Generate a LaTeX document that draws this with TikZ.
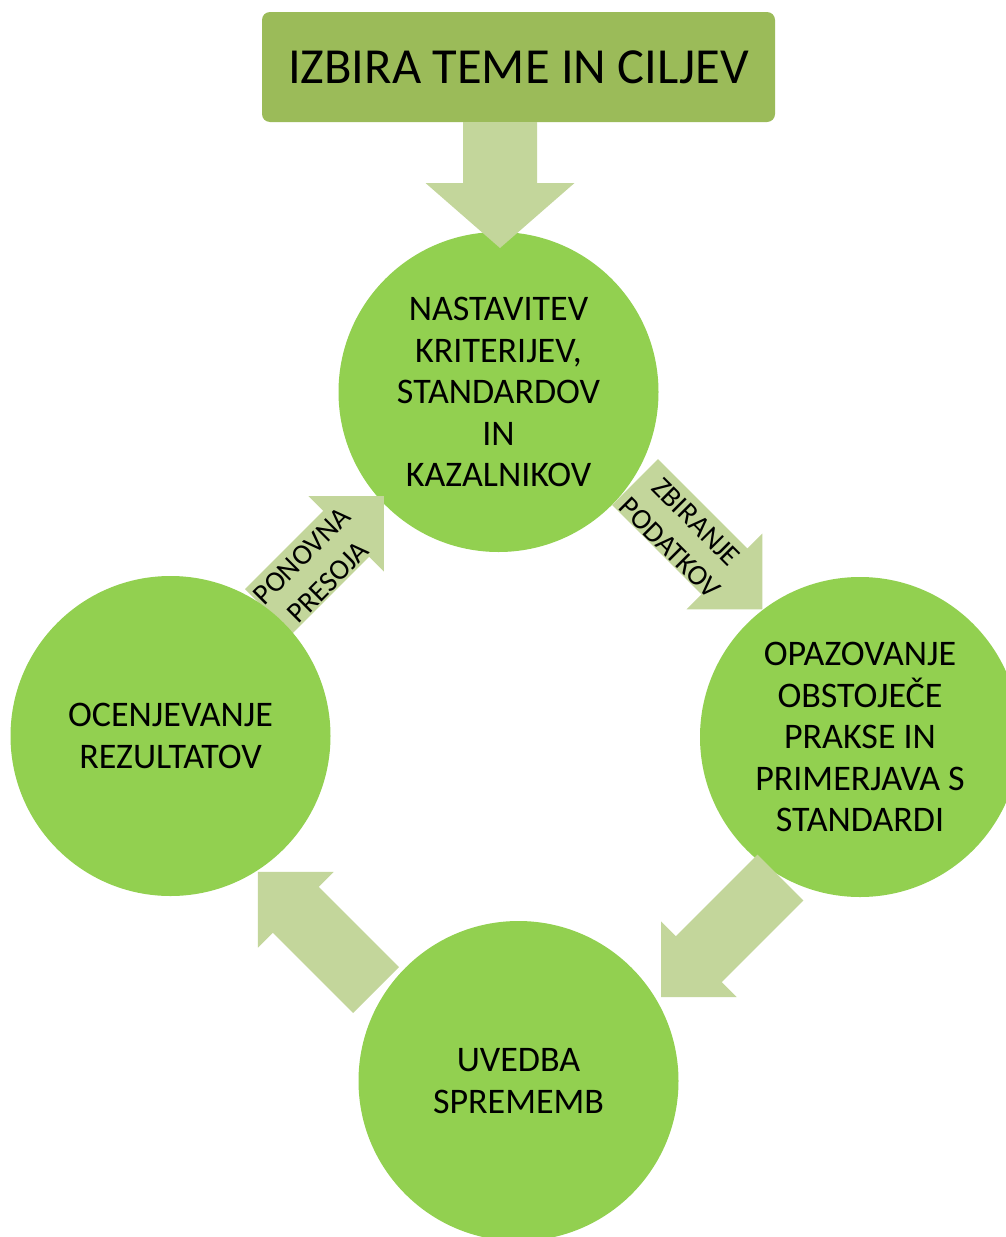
\documentclass[tikz,border=0pt]{standalone}
\usepackage{fontspec}
\setmainfont{Carlito}
\definecolor{circlegreen}{HTML}{92D050}
\definecolor{arrowgreen}{HTML}{C3D69B}
\definecolor{boxgreen}{HTML}{9BBB59}
\begin{document}
\begin{tikzpicture}[x=1pt,y=-1pt,
  stage/.style={circle, fill=circlegreen, minimum size=320pt, inner sep=0pt, align=center,
    font=\fontsize{36pt}{41.5pt}\selectfont},
  arrowlabel/.style={align=center, inner sep=0pt, font=\fontsize{29pt}{37pt}\selectfont},
  pics/blockarrow/.style args={#1/#2/#3/#4}{code={
    \fill[arrowgreen] (0,-#2) -- (#1,-#2) -- (#1,-#3) -- (#1+#4,0) -- (#1,#3) -- (#1,#2) -- (0,#2) -- cycle;}}]
\clip (0,0) rectangle (1006,1237);
\fill[white] (0,0) rectangle (1006,1237);
% stages
\node[rectangle, rounded corners=8pt, fill=boxgreen, minimum width=513pt, minimum height=110pt,
  inner sep=0pt, font=\fontsize{50.5pt}{60pt}\selectfont] (goal) at (518.5,67) {IZBIRA TEME IN CILJEV};
\node[stage] (set) at (498.5,392) {NASTAVITEV\\KRITERIJEV,\\STANDARDOV\\IN\\KAZALNIKOV};
\node[stage] (obs) at (860,737) {OPAZOVANJE\\OBSTOJEČE\\PRAKSE IN\\PRIMERJAVA S\\STANDARDI};
\node[stage] (imp) at (518.5,1081) {UVEDBA\\SPREMEMB};
% arrows (tail points)
\coordinate (t0) at (500,122);
\coordinate (t1) at (268,612);
\coordinate (t2) at (635,482);
\coordinate (t3) at (780.5,877.5);
\coordinate (t4) at (376,990);
\pic[rotate=-90] at (t0) {blockarrow=61/37/74.5/65};
\pic[rotate=45] at (t1) {blockarrow=110.5/32.5/53.5/53.5};
\pic[rotate=-45] at (t2) {blockarrow=126.5/32.5/53.5/53.5};
\pic[rotate=-135] at (t3) {blockarrow=115.5/32.5/53.5/53.5};
\pic[rotate=135] at (t4) {blockarrow=113.5/32.5/53.5/53.5};
\node[stage] (eval) at (170.5,736) {OCENJEVANJE\\REZULTATOV};
% arrow labels
\node[arrowlabel, rotate=45] (l1) at (315,569) {PONOVNA\\PRESOJA};
\node[arrowlabel, rotate=-45] (l2) at (683,535) {ZBIRANJE\\PODATKOV};
\end{tikzpicture}
\end{document}
